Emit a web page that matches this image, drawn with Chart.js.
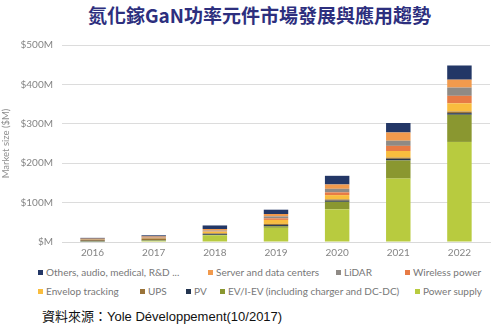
<!DOCTYPE html>
<html><head><meta charset="utf-8">
<script src="https://cdn.jsdelivr.net/npm/chart.js@4"></script>
<style>
html,body{margin:0;padding:0;background:#fff;}
#wrap{position:relative;width:495px;height:324px;overflow:hidden;background:#fff;}
#title{position:absolute;left:12px;top:3px;width:495px;text-align:center;font-family:"Noto Sans CJK TC",sans-serif;font-weight:bold;font-size:19px;color:#2d2f7e;line-height:24px;}
#cv{position:absolute;left:0;top:0;}
.leg{position:absolute;font-family:Lato,"Open Sans",sans-serif;font-size:10px;color:#777;white-space:nowrap;line-height:12px;}
.leg i{display:inline-block;width:5px;height:5px;margin-right:3px;vertical-align:1px;}
#src{position:absolute;left:42px;top:309px;font-family:"Liberation Sans","Noto Sans CJK TC",sans-serif;font-size:13px;color:#111;white-space:nowrap;line-height:16px;}
</style></head>
<body><div id="wrap">
<div id="title">氮化鎵GaN功率元件市場發展與應用趨勢</div>
<canvas id="cv" width="495" height="262"></canvas>
<div id="legend"></div>
<div id="src">資料來源：Yole Développement(10/2017)</div>
</div>
<script>
const categories = ['2016','2017','2018','2019','2020','2021','2022'];
const powerSupply = [1, 3, 17, 36, 83, 161, 254];
const evHev = [0.5, 1, 1, 4, 19, 46, 69];
const pv = [1.5, 1, 2, 3, 3, 4, 4];
const ups = [3, 4, 2, 3, 3, 3, 4];
const envelop = [0.5, 1, 4, 10, 11, 17, 21];
const wireless = [0.5, 1, 1, 4, 7, 13, 19];
const lidar = [0.5, 1, 2, 5, 9, 13, 21];
const server = [1, 2, 4, 6, 11, 21, 20];
const others = [2, 3, 9, 11, 22, 24, 36];
const seriesNames = ['Power supply','EV/I-EV (including charger and DC-DC)','PV','UPS','Envelop tracking','Wireless power','LiDAR','Server and data centers','Others, audio, medical, R&D ...'];
const seriesData = [powerSupply, evHev, pv, ups, envelop, wireless, lidar, server, others];
const seriesColors = ['#b8cb3f','#8a9730','#23344f','#9a7338','#f9bd3e','#e77b45','#8f8a85','#f19a4d','#233766'];
const yTicks = [0,100,200,300,400,500];

const datasets = seriesNames.map((n,i)=>({label:n,data:seriesData[i],backgroundColor:seriesColors[i],borderWidth:0,barPercentage:0.4,categoryPercentage:1}));

new Chart(document.getElementById('cv'),{
  type:'bar',
  data:{labels:categories,datasets},
  options:{
    responsive:false,animation:false,
    layout:{padding:{top:45,right:5,left:0,bottom:0}},
    plugins:{legend:{display:false},tooltip:{enabled:false}},
    scales:{
      x:{stacked:true,grid:{display:false,drawTicks:false},border:{display:true,color:'#d9d9d9'},
         ticks:{color:'#858585',font:{family:'Lato',size:10},padding:5},
         afterFit:s=>{s.height=20;}},
      y:{stacked:true,min:0,max:500,
         afterBuildTicks:s=>{s.ticks=yTicks.map(v=>({value:v}));},
         grid:{color:'#dcdcdc',drawTicks:false},border:{display:false},
         ticks:{color:'#858585',font:{family:'Lato',size:10},padding:9,callback:v=>v===0?'$M':'$'+v+'M'},
         title:{display:true,text:'Market size ($M)',color:'#8f8f8f',font:{family:'Lato',size:9.5},padding:{top:0,bottom:0}},
         afterFit:s=>{s.width=62;}}
    }
  }
});

// legend (order reversed so top segment first)
const legPos = [[38,266],[208,266],[336,266],[405,266],[38,285],[140,285],[186,285],[220,285],[415,285]];
const lg = document.getElementById('legend');
for(let k=0;k<seriesNames.length;k++){
  const i = seriesNames.length-1-k;
  const d = document.createElement('div');
  d.className='leg';
  d.style.left=legPos[k][0]+'px';
  d.style.top=legPos[k][1]+'px';
  d.innerHTML='<i style="background:'+seriesColors[i]+'"></i>';
  d.appendChild(document.createTextNode(seriesNames[i]));
  lg.appendChild(d);
}
</script>
</body></html>
